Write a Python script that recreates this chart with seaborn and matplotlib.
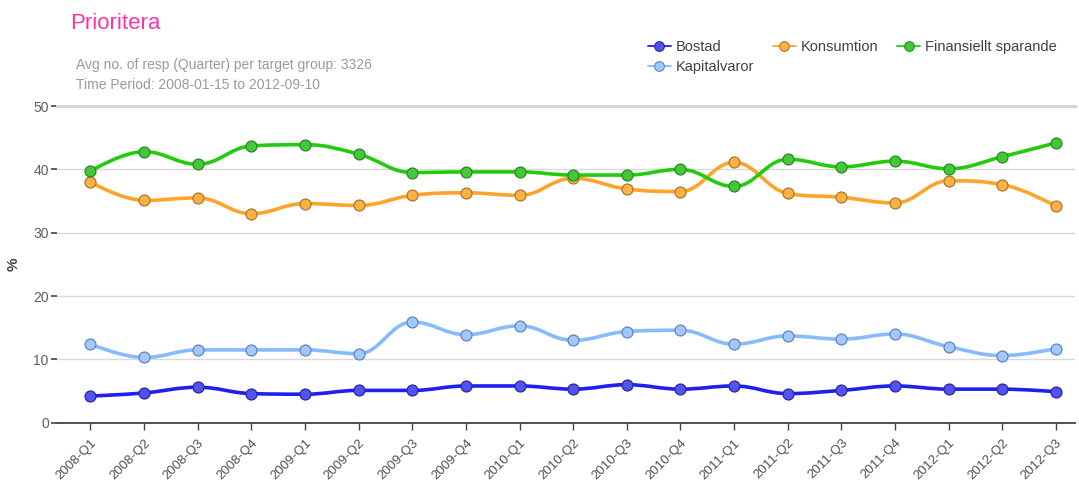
import numpy as np
import pandas as pd
import matplotlib.pyplot as plt
import seaborn as sns
from matplotlib.path import Path
from matplotlib.patches import PathPatch
from matplotlib.lines import Line2D

quarters = ["2008-Q1", "2008-Q2", "2008-Q3", "2008-Q4", "2009-Q1", "2009-Q2", "2009-Q3",
            "2009-Q4", "2010-Q1", "2010-Q2", "2010-Q3", "2010-Q4", "2011-Q1", "2011-Q2",
            "2011-Q3", "2011-Q4", "2012-Q1", "2012-Q2", "2012-Q3"]

bostad = [4.2, 4.7, 5.6, 4.6, 4.5, 5.1, 5.1, 5.8, 5.8, 5.3, 6.0, 5.3, 5.8, 4.6, 5.1, 5.8, 5.3, 5.3, 4.9]
konsumtion = [38.0, 35.1, 35.5, 33.0, 34.6, 34.3, 35.9, 36.3, 35.9, 38.6, 36.9, 36.5, 41.1, 36.2,
              35.6, 34.7, 38.2, 37.6, 34.2]
finansiellt = [39.7, 42.8, 40.8, 43.7, 43.9, 42.4, 39.5, 39.6, 39.6, 39.1, 39.1, 40.0, 37.3, 41.6,
               40.4, 41.3, 40.1, 42.0, 44.2]
kapitalvaror = [12.4, 10.3, 11.5, 11.5, 11.5, 10.9, 15.9, 13.9, 15.3, 13.0, 14.4, 14.6, 12.4, 13.7,
                13.2, 14.0, 12.0, 10.6, 11.7]

series_names = ["Bostad", "Konsumtion", "Finansiellt sparande", "Kapitalvaror"]
series_values = [bostad, konsumtion, finansiellt, kapitalvaror]
line_colors = ["#1f1ff0", "#ffa42b", "#22cc0c", "#88baff"]
face_colors = ["#5252f2", "#ffb243", "#44c83a", "#a3c8ff"]
edge_colors = ["#2a2a9a", "#a8782e", "#2a8a22", "#5f86b8"]

df = pd.DataFrame({
    "series": np.repeat(series_names, len(quarters)),
    "quarter": quarters * len(series_names),
    "pos": list(range(len(quarters))) * len(series_names),
    "value": np.concatenate(series_values),
})


def spline_path(xs, ys, smoothing=1.5):
    # highcharts-like spline: cubic bezier through each data point
    denom = smoothing + 1
    n = len(xs)
    left = [None] * n
    right = [None] * n
    for i in range(1, n - 1):
        px, py = xs[i], ys[i]
        lx, ly = xs[i - 1], ys[i - 1]
        nx, ny = xs[i + 1], ys[i + 1]
        lcx = (smoothing * px + lx) / denom
        lcy = (smoothing * py + ly) / denom
        rcx = (smoothing * px + nx) / denom
        rcy = (smoothing * py + ny) / denom
        corr = ((rcy - lcy) * (rcx - px)) / (rcx - lcx) + py - rcy
        lcy += corr
        rcy += corr
        if lcy > ly and lcy > py:
            lcy = max(ly, py)
            rcy = 2 * py - lcy
        elif lcy < ly and lcy < py:
            lcy = min(ly, py)
            rcy = 2 * py - lcy
        if rcy > ny and rcy > py:
            rcy = max(ny, py)
            lcy = 2 * py - rcy
        elif rcy < ny and rcy < py:
            rcy = min(ny, py)
            lcy = 2 * py - rcy
        left[i] = (lcx, lcy)
        right[i] = (rcx, rcy)
    verts = [(xs[0], ys[0])]
    codes = [Path.MOVETO]
    for i in range(1, n):
        c1 = right[i - 1] if right[i - 1] else (xs[i - 1], ys[i - 1])
        c2 = left[i] if left[i] else (xs[i], ys[i])
        verts += [c1, c2, (xs[i], ys[i])]
        codes += [Path.CURVE4] * 3
    return Path(verts, codes)


sns.set_style("white")
plt.rcParams["font.family"] = ["Liberation Sans", "DejaVu Sans"]

fig = plt.figure(figsize=(10.79, 4.82), dpi=100)
ax = fig.add_axes([0.053, 0.123, 0.943, 0.657])

draw_order = ["Kapitalvaror", "Bostad", "Konsumtion", "Finansiellt sparande"]
for name in draw_order:
    k = series_names.index(name)
    sub = df[df["series"] == name]
    path = spline_path(sub["pos"].to_numpy(float), sub["value"].to_numpy(float))
    ax.add_patch(PathPatch(path, facecolor="none", edgecolor=line_colors[k], lw=2.6,
                           capstyle="round", joinstyle="round", zorder=3))
    sns.scatterplot(data=sub, x="pos", y="value", ax=ax, color=face_colors[k],
                    edgecolor=edge_colors[k], linewidth=0.9, s=62, zorder=4, legend=False)

ax.set_xlim(-0.62, 18.35)
ax.set_ylim(0, 50)
ax.set_yticks([0, 10, 20, 30, 40, 50])
ax.set_xticks(range(len(quarters)))
ax.set_xticklabels(quarters, rotation=45, ha="right", rotation_mode="anchor", fontsize=9.5,
                   color="#505050")
ax.tick_params(axis="y", labelsize=10, labelcolor="#606060", length=4, width=1.2, color="#444444",
               left=True, pad=2)
ax.tick_params(axis="x", length=5, width=1, color="#444444", bottom=True, pad=3)
for lab in ax.get_xticklabels():
    lab.set_y(-0.01)
ax.set_xlabel("")
ax.set_ylabel("%", fontsize=11, color="#444444", fontweight="bold")
ax.yaxis.set_label_coords(-0.036, 0.5)

ax.yaxis.grid(True, color="#d9d9d9", lw=1)
ax.set_axisbelow(True)
for s in ["left", "right"]:
    ax.spines[s].set_visible(False)
ax.spines["top"].set_color("#d4d4d4")
ax.spines["top"].set_linewidth(2.2)
ax.spines["bottom"].set_color("#444444")
ax.spines["bottom"].set_linewidth(1.3)

fig.text(0.065, 0.952, "Prioritera", fontsize=16, color="#ff33aa", va="center")
fig.text(0.07, 0.866, "Avg no. of resp (Quarter) per target group: 3326", fontsize=10,
         color="#9a9a9a", va="center")
fig.text(0.07, 0.824, "Time Period: 2008-01-15 to 2012-09-10", fontsize=10,
         color="#9a9a9a", va="center")

handles = []
order = ["Bostad", "Kapitalvaror", "Konsumtion", "Finansiellt sparande"]
for name in order:
    k = series_names.index(name)
    handles.append(Line2D([0], [0], color=line_colors[k], lw=1.3, marker="o", markersize=7,
                          markerfacecolor=face_colors[k], markeredgecolor=edge_colors[k],
                          markeredgewidth=0.8, label=name))
fig.legend(handles=handles, loc="upper left", bbox_to_anchor=(0.588, 0.945), ncol=3,
           frameon=False, fontsize=10.5, handlelength=1.6, handletextpad=0.3, columnspacing=1.3,
           labelspacing=0.45, labelcolor="#404040")

fig.savefig("out.png", dpi=100)
